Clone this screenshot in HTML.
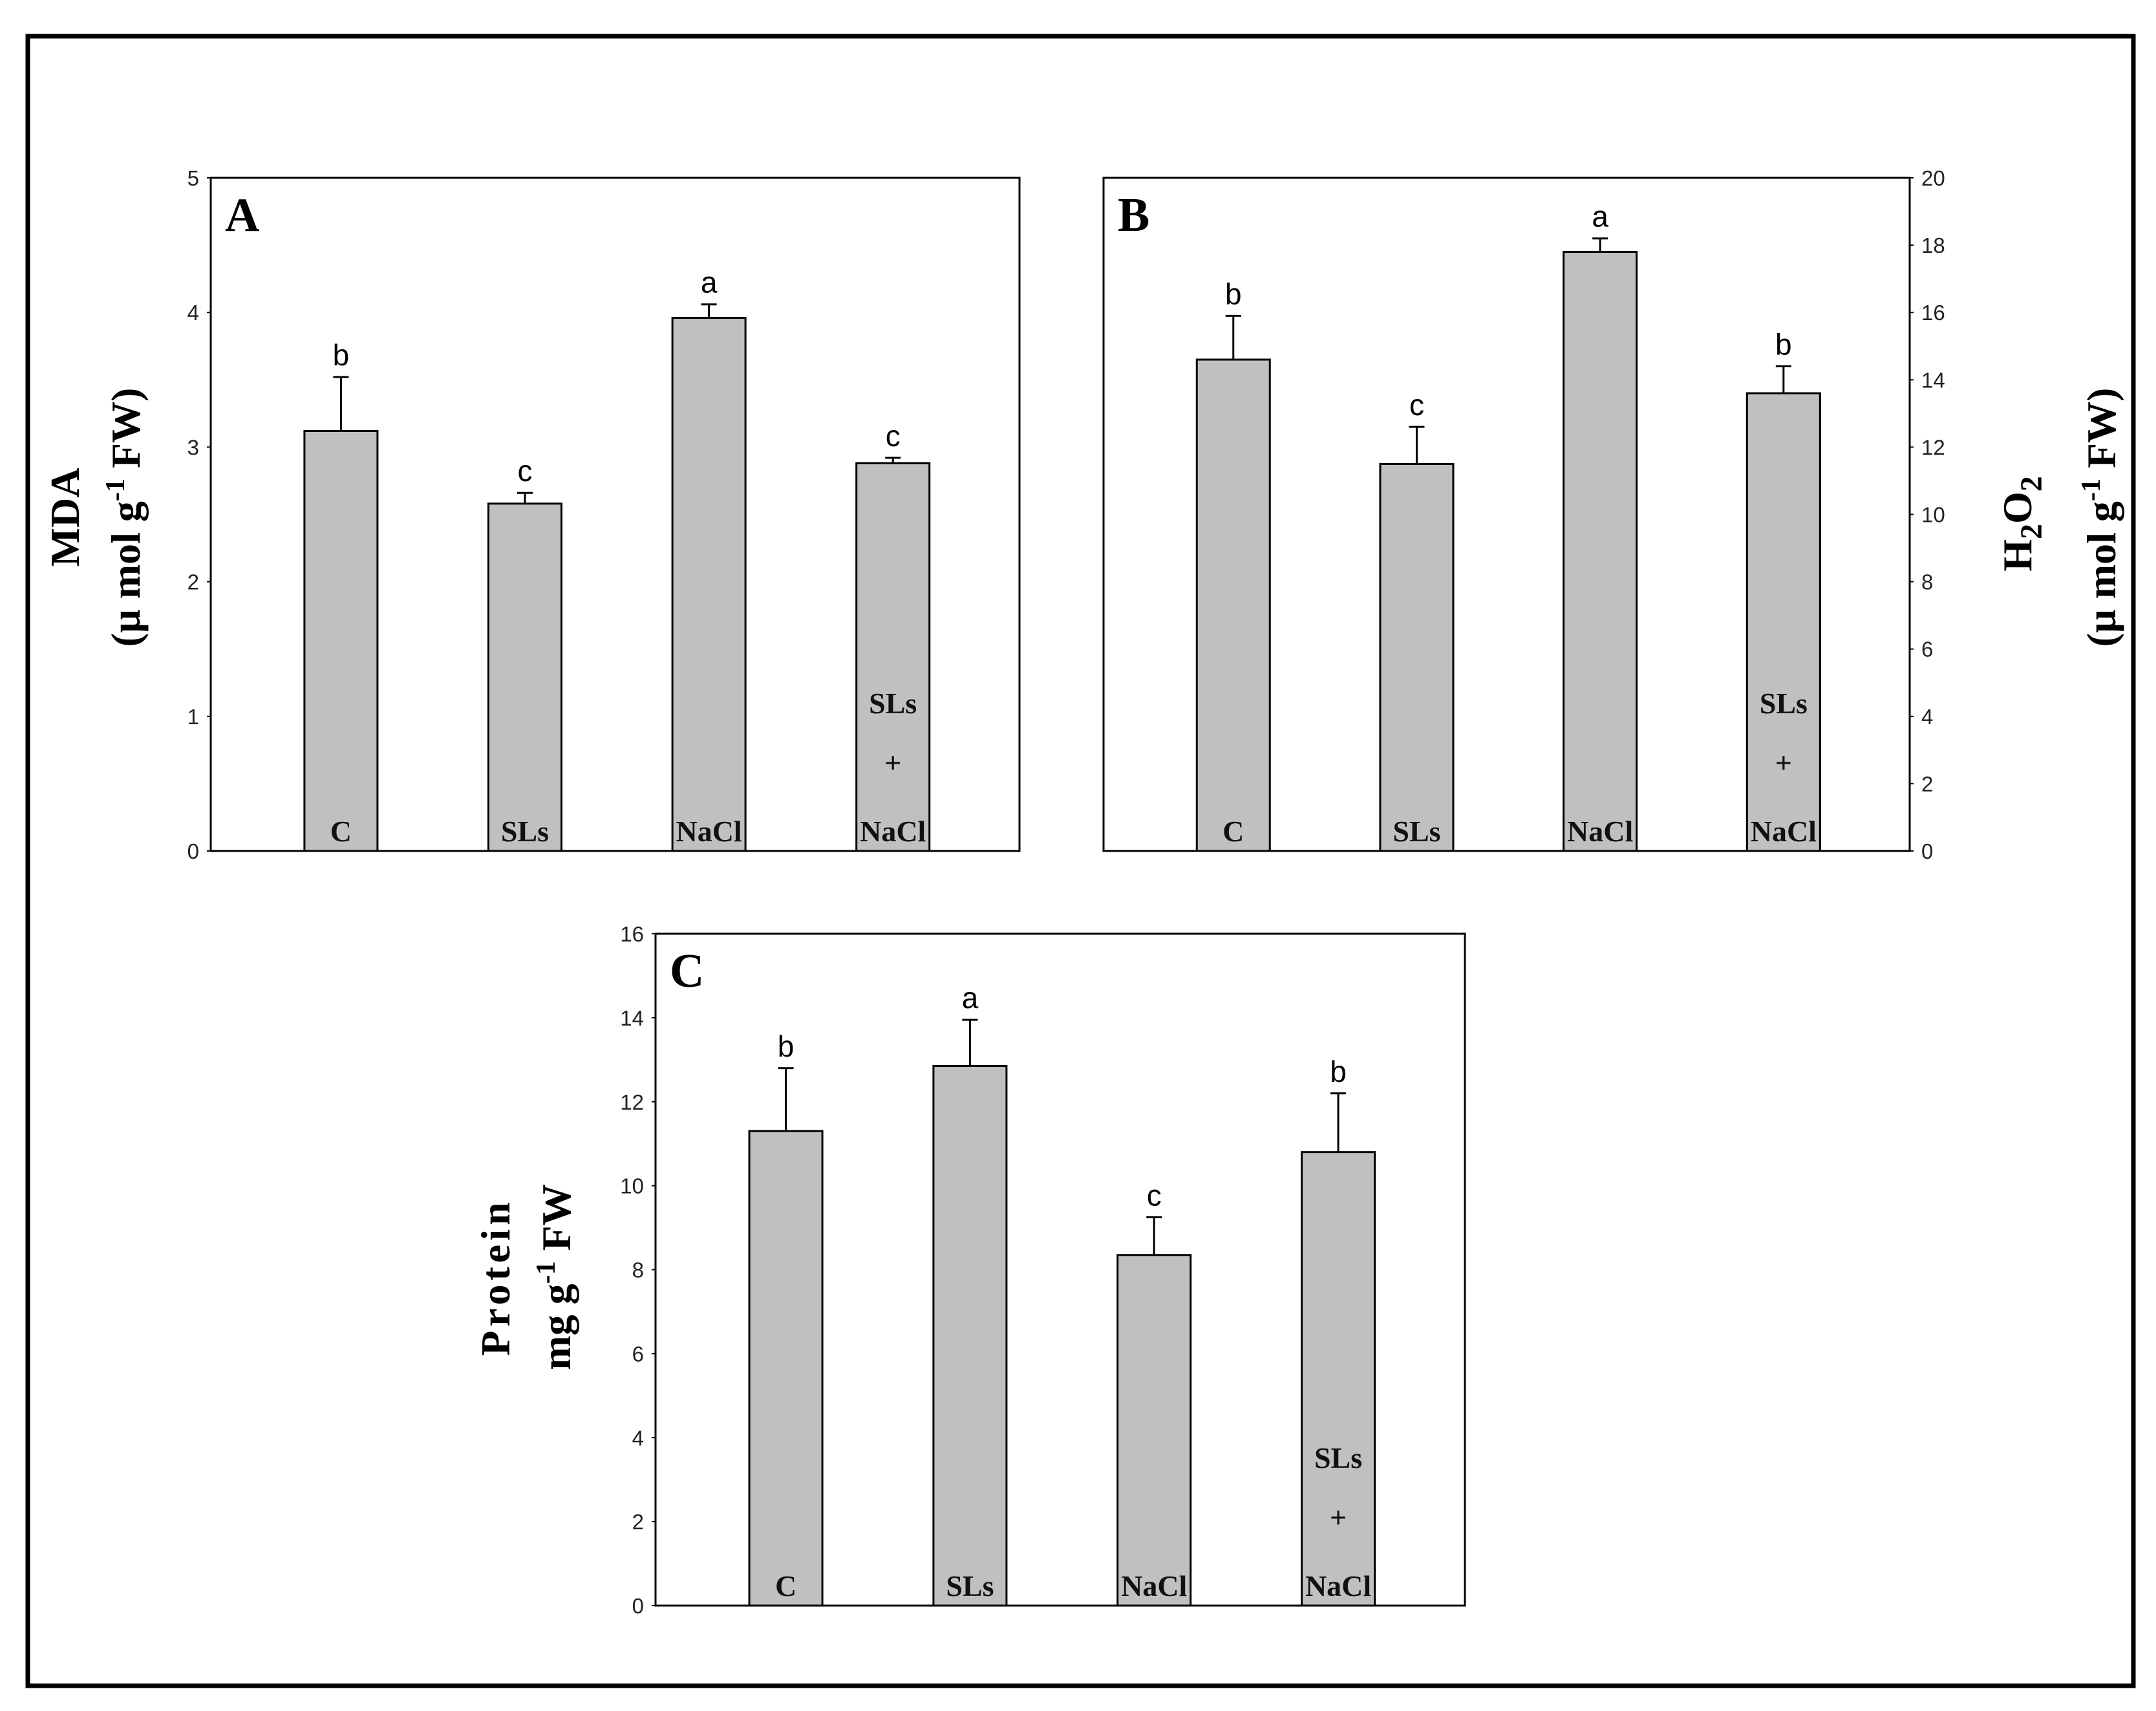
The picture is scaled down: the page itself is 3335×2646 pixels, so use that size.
<!DOCTYPE html>
<html><head><meta charset="utf-8"><style>
html,body{margin:0;padding:0;background:#fff}
svg{display:block}
.tick{font-family:"Liberation Sans",sans-serif;font-size:33px;fill:#222}
.sig{font-family:"Liberation Sans",sans-serif;font-size:46px;fill:#000}
.cat{font-family:"Liberation Serif",serif;font-size:46px;font-weight:bold;fill:#111}
.ttl{font-family:"Liberation Serif",serif;font-size:64px;font-weight:bold;fill:#000}
.pl{font-family:"Liberation Serif",serif;font-size:74px;font-weight:bold;fill:#000}
</style></head><body>
<svg id="fig" width="3335" height="2646" viewBox="0 0 3335 2646" xmlns="http://www.w3.org/2000/svg">
<rect x="43" y="56" width="3257" height="2551" fill="none" stroke="#000" stroke-width="7"/>
</svg>
<script>
const categories = ["C","SLs","NaCl","SLs+NaCl"];
const mdaValues = [3.12, 2.58, 3.96, 2.88];
const mdaErrors = [0.40, 0.08, 0.10, 0.04];
const mdaLetters = ["b","c","a","c"];
const mdaTicks = [0,1,2,3,4,5];
const h2o2Values = [14.6, 11.5, 17.8, 13.6];
const h2o2Errors = [1.3, 1.1, 0.4, 0.8];
const h2o2Letters = ["b","c","a","b"];
const h2o2Ticks = [0,2,4,6,8,10,12,14,16,18,20];
const protValues = [11.3, 12.85, 8.35, 10.8];
const protErrors = [1.5, 1.1, 0.9, 1.4];
const protLetters = ["b","a","c","b"];
const protTicks = [0,2,4,6,8,10,12,14,16];

const NS="http://www.w3.org/2000/svg";
const svg=document.getElementById('fig');
function mk(tag,attrs,parent,text){const e=document.createElementNS(NS,tag);for(const k in attrs)e.setAttribute(k,attrs[k]);if(text!==undefined)e.textContent=text;(parent||svg).appendChild(e);return e;}

function panel(cfg){
  const g=mk('g',{});
  
  
  const {x0,x1,y0,y1,max}=cfg;
  const ys=v=>y1-(v/max)*(y1-y0);
  const w=x1-x0;
  const xs=i=>x0+w*(0.161+0.2275*i);
  const bw=113;
  const box=mk('rect',{x:x0,y:y0,width:x1-x0,height:y1-y0,fill:'none',stroke:'#000','stroke-width':3},g);
  
  
  cfg.ticks.forEach(t=>{
    const y=ys(t);
    const tx = cfg.right ? x1+18 : x0-18;
    const lab=mk('text',{x:tx,y:y+12,class:'tick','text-anchor':cfg.right?'start':'end'},g,String(t));
    
    
    mk('line',{x1:cfg.right?x1:x0-6,x2:cfg.right?x1+6:x0,y1:y,y2:y,stroke:'#000','stroke-width':2},g);
  });
  cfg.values.forEach((v,i)=>{
    const cx=xs(i), top=ys(v);
    const r=mk('rect',{x:cx-bw/2,y:top,width:bw,height:y1-top,fill:'#c0c0c0',stroke:'#000','stroke-width':3},g);
    
    
    const et=ys(v+cfg.errors[i]);
    const eb=mk('path',{d:`M${cx},${top} V${et} M${cx-12},${et} H${cx+12}`,stroke:'#000','stroke-width':3,fill:'none'},g);
    
    
    const s=mk('text',{x:cx,y:et-18,class:'sig','text-anchor':'middle'},g,cfg.letters[i]);
    
    
    if(categories[i]==='SLs+NaCl'){
      [['SLs',1100],['+',1192],['NaCl',1298]].forEach(([t,dy])=>{
        const c=mk('text',{x:cx,y:y1-(1313-dy),class:'cat','text-anchor':'middle'},g,t);
        
        
      });
    } else {
      const c=mk('text',{x:cx,y:y1-15,class:'cat','text-anchor':'middle'},g,categories[i]);
      
      
    }
  });
  const pl=mk('text',{x:x0+22,y:y0+82,class:'pl'},g,cfg.id.toUpperCase());
  
  
  return g;
}

panel({id:'a',x0:326,x1:1577,y0:275,y1:1316,max:5,ticks:mdaTicks,values:mdaValues,errors:mdaErrors,letters:mdaLetters});
panel({id:'b',x0:1707,x1:2954,y0:275,y1:1316,max:20,ticks:h2o2Ticks,values:h2o2Values,errors:h2o2Errors,letters:h2o2Letters,right:true});
panel({id:'c',x0:1014,x1:2266,y0:1444,y1:2483,max:16,ticks:protTicks,values:protValues,errors:protErrors,letters:protLetters});

function vtitle(x,y,html,name,extra){
  const t=mk('text',Object.assign({x:0,y:0,class:'ttl','text-anchor':'middle',transform:`translate(${x},${y}) rotate(-90)`},extra||{}));
  t.innerHTML=html;
  
  
}
vtitle(122,800,'MDA','y-axis-title-a');
vtitle(216,800,'(µ mol g<tspan dy="-24" font-size="42">-1</tspan><tspan dy="24"> FW)</tspan>','y-axis-unit-a');
vtitle(3142,810,'H<tspan dy="16" font-size="48">2</tspan><tspan dy="-16">O</tspan><tspan dy="16" font-size="48">2</tspan>','y-axis-title-b');
vtitle(3272,800,'(µ mol g<tspan dy="-24" font-size="42">-1</tspan><tspan dy="24"> FW)</tspan>','y-axis-unit-b');
vtitle(788,1975,'Protein','y-axis-title-c',{'letter-spacing':'6'});
vtitle(882,1975,'mg g<tspan dy="-24" font-size="42">-1</tspan><tspan dy="24"> FW</tspan>','y-axis-unit-c');
</script>
</body></html>
